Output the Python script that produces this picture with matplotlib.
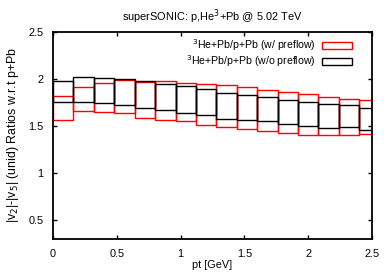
"""superSONIC ratio bands: 3He+Pb / p+Pb, with and without preflow."""
import numpy as np
from matplotlib import pyplot as plt
from matplotlib.patches import Rectangle

plt.rcParams['font.family'] = ['Liberation Sans', 'DejaVu Sans']

# pt bins (left edges), width 0.16 GeV
bin_width = 0.16
pt_left = [0.00, 0.16, 0.32, 0.48, 0.64, 0.80, 0.96, 1.12,
           1.28, 1.44, 1.60, 1.76, 1.92, 2.08, 2.24, 2.40]

# w/ preflow (red) band
red_hi = [1.82, 1.91, 1.96, 1.99, 1.97, 1.98, 1.96, 1.95,
          1.94, 1.91, 1.88, 1.86, 1.84, 1.81, 1.79, 1.78]
red_lo = [1.56, 1.66, 1.65, 1.64, 1.59, 1.56, 1.55, 1.51,
          1.49, 1.47, 1.45, 1.43, 1.40, 1.40, 1.40, 1.41]

# w/o preflow (black) band
blk_hi = [1.98, 2.02, 2.01, 2.00, 1.98, 1.95, 1.92, 1.89,
          1.85, 1.83, 1.81, 1.78, 1.75, 1.73, 1.72, 1.69]
blk_lo = [1.76, 1.75, 1.74, 1.72, 1.69, 1.67, 1.64, 1.62,
          1.57, 1.56, 1.55, 1.52, 1.50, 1.48, 1.49, 1.46]

fig = plt.figure(figsize=(3.9, 2.73), dpi=100)
ax = fig.add_axes([0.136, 0.125, 0.818, 0.758])

lo = np.array(red_lo)
ax.bar(pt_left, np.array(red_hi) - lo, bottom=lo, width=bin_width,
       align='edge', fill=False, edgecolor='red', linewidth=1.0, zorder=2)
lo = np.array(blk_lo)
ax.bar(pt_left, np.array(blk_hi) - lo, bottom=lo, width=bin_width,
       align='edge', fill=False, edgecolor='black', linewidth=1.0, zorder=3)

ax.set_xlim(0, 2.5)
ax.set_ylim(0.3, 2.5)
ax.set_xticks([0, 0.5, 1, 1.5, 2, 2.5])
ax.set_xticklabels(['0', '0.5', '1', '1.5', '2', '2.5'])
ax.set_yticks([0.5, 1, 1.5, 2, 2.5])
ax.set_yticklabels(['0.5', '1', '1.5', '2', '2.5'])
ax.tick_params(direction='in', top=True, right=True, length=3, width=1,
               labelsize=7.8, pad=7)
for s in ax.spines.values():
    s.set_linewidth(1.3)

ax.set_xlabel('pt [GeV]', fontsize=7.8, labelpad=1)
ax.set_ylabel('|v$_2$|-|v$_5$| (unid) Ratios w.r.t p+Pb', fontsize=8.9,
              labelpad=5)
ax.set_title('superSONIC: p,He$^3$+Pb @ 5.02 TeV', fontsize=7.9, pad=8)

handles = [Rectangle((0, 0), 1, 1, fill=False, edgecolor='red', lw=1.0),
           Rectangle((0, 0), 1, 1, fill=False, edgecolor='black', lw=1.0)]
labels = ['$^3$He+Pb/p+Pb (w/ preflow)', '$^3$He+Pb/p+Pb (w/o preflow)']
ax.legend(handles, labels, loc='upper right', frameon=False, fontsize=7.6,
          markerfirst=False, handlelength=2.9, handleheight=0.6,
          handletextpad=0.6, labelspacing=0.05, borderaxespad=0.1,
          bbox_to_anchor=(0.955, 1.0))

fig.savefig('out.png', dpi=100)
